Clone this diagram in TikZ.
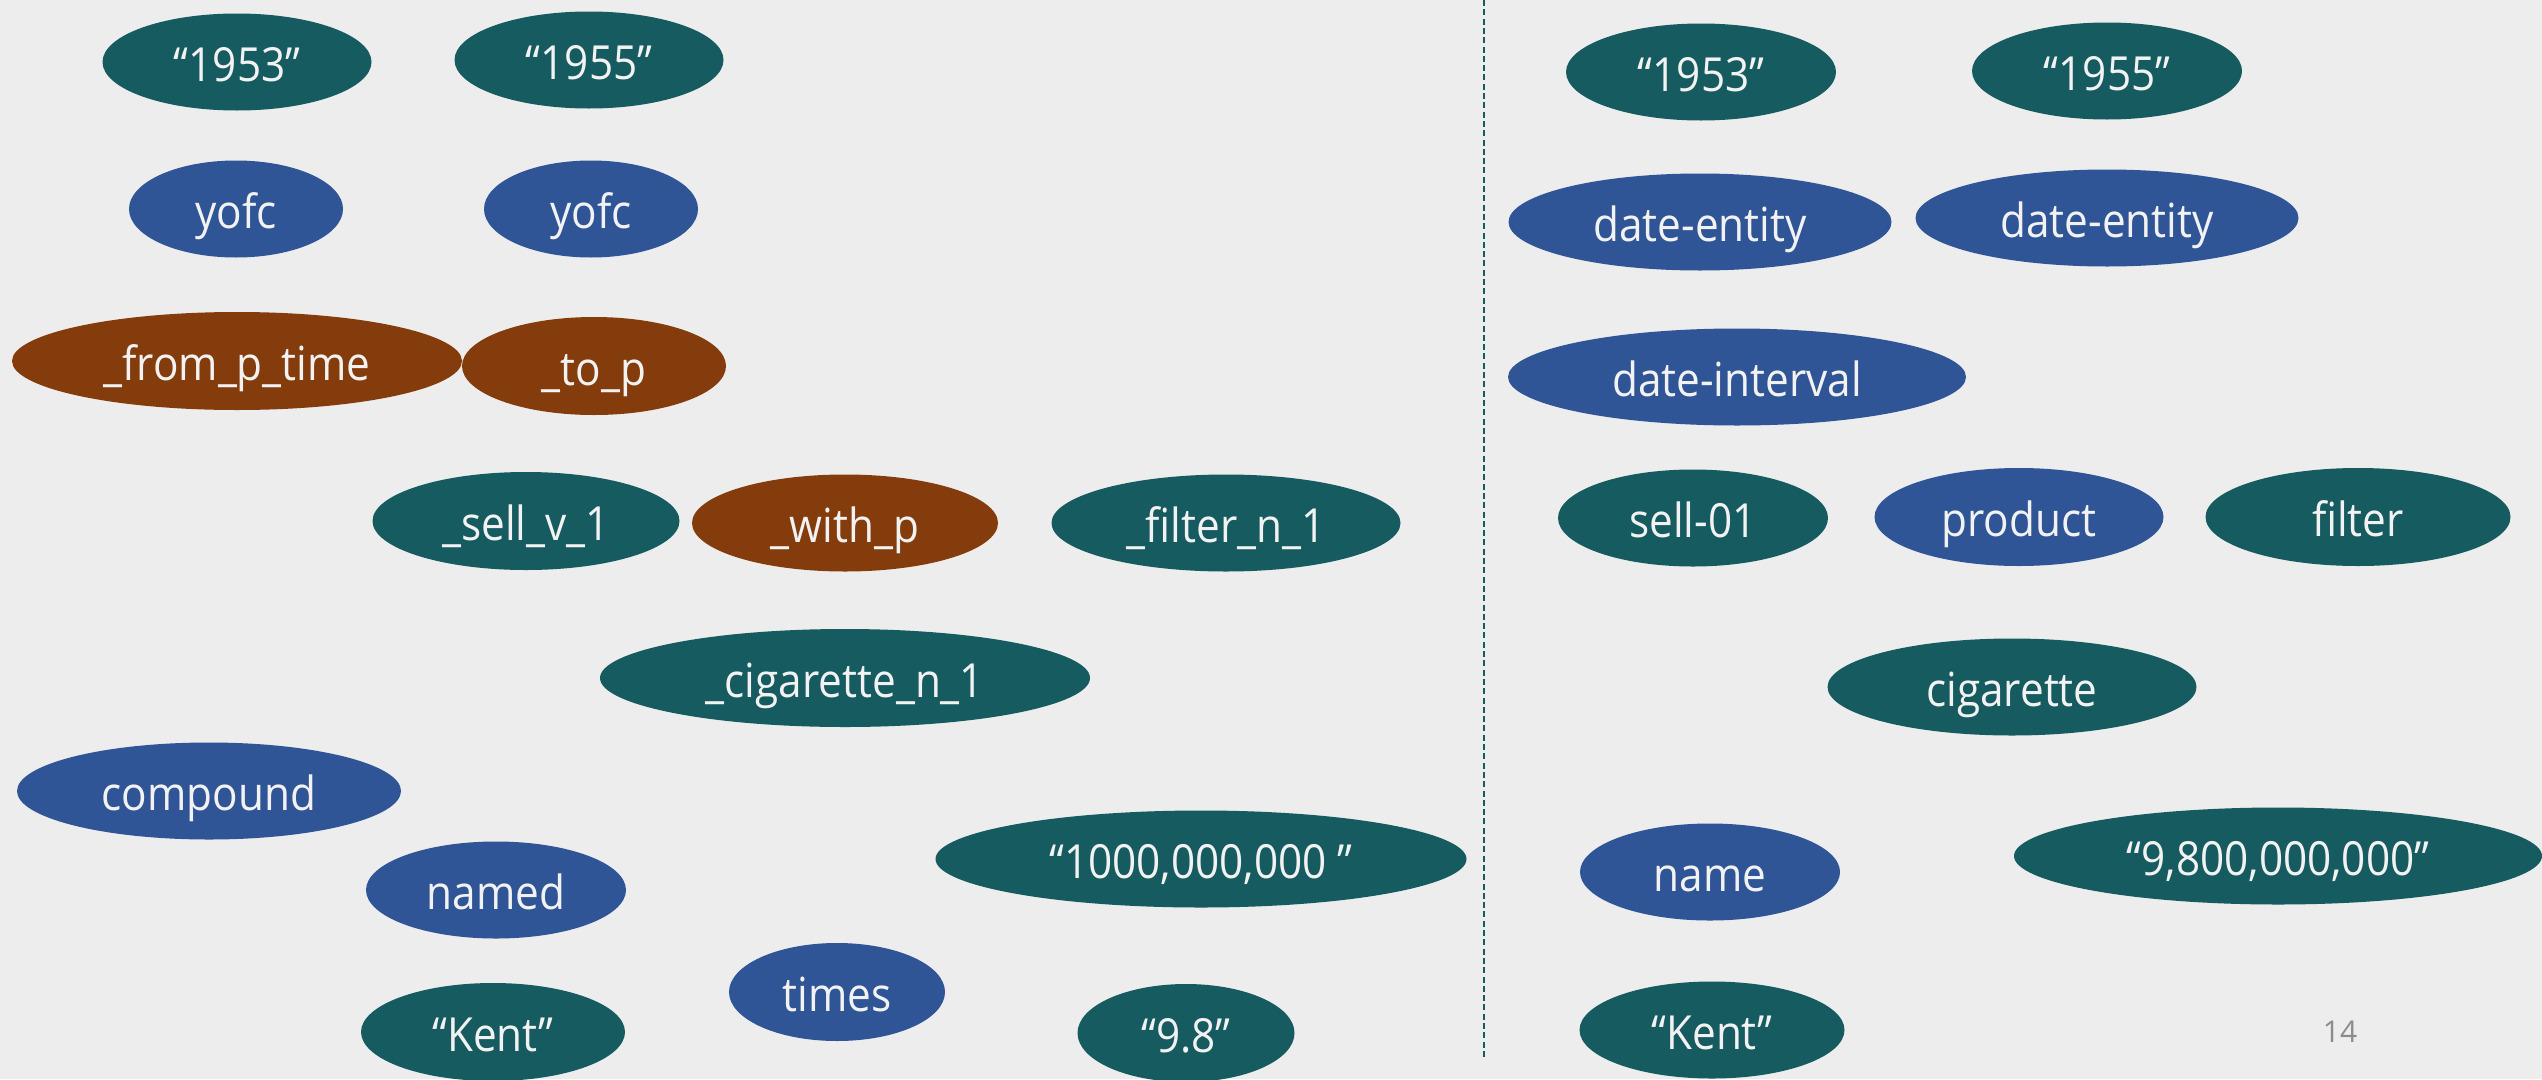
\documentclass[tikz,border=0pt]{standalone}
\usepackage{fontspec}
\setmainfont{Open Sans}
\newfontfamily\lblfont[FakeStretch=0.9]{Open Sans}
\usetikzlibrary{shapes.geometric}
\definecolor{bg}{RGB}{237,237,237}
\definecolor{tealc}{RGB}{21,91,96}
\definecolor{bluec}{RGB}{47,85,151}
\definecolor{brownc}{RGB}{132,60,12}
\definecolor{txt}{RGB}{242,242,242}
\definecolor{pgnum}{RGB}{140,140,140}
\begin{document}
\begin{tikzpicture}[x=1pt,y=-1pt,
  concept/.style={ellipse, inner sep=0pt, text=txt, text height=38pt, text depth=0pt,
    font=\lblfont\fontsize{47}{56}\selectfont},
  lit/.style={concept, fill=tealc},
  rel/.style={concept, fill=bluec},
  prep/.style={concept, fill=brownc},
  sz/.style 2 args={minimum width=#1, minimum height=#2}]
% page
\fill[bg] (0,0) rectangle (2542,1079);
\useasboundingbox (0,0) rectangle (2542,1079);
\clip (0,0) rectangle (2542,1079);

% ---- left half: DMRS-style graph nodes
\node[lit, sz={269}{97}]  (a1953)  at (237,62)   {“1953”};
\node[lit, sz={269}{97}]  (a1955)  at (589,60)   {“1955”};
\node[rel, sz={214}{97}]  (ayofcA) at (236,209)  {yofc};
\node[rel, sz={214}{97}]  (ayofcB) at (591,209)  {yofc};
\node[prep, sz={450}{98}] (afrom)  at (237,361)  {\_from\_p\_time};
\node[prep, sz={264}{98}] (ato)    at (594,366)  {\_to\_p};
\node[lit, sz={307}{98}]  (asell)  at (526,521)  {\_sell\_v\_1};
\node[prep, sz={306}{97}] (awith)  at (845,523)  {\_with\_p};
\node[lit, sz={349}{97}]  (afilt)  at (1226,523) {\_filter\_n\_1};
\node[lit, sz={490}{98}]  (acig)   at (845,678)  {\_cigarette\_n\_1};
\node[rel, sz={384}{97}]  (acomp)  at (209,791)  {compound};
\node[rel, sz={260}{97}]  (anamed) at (496,890)  {named};
\node[lit, sz={531}{97}]  (abig)   at (1201,859) {“1000,000,000 ”};
\node[rel, sz={216}{98}]  (atimes) at (837,992)  {times};
\node[lit, sz={264}{98}]  (akent)  at (493,1032) {“Kent”};
\node[lit, sz={217}{98}]  (anine)  at (1186,1033){“9.8”};

% ---- divider
\coordinate (divtop) at (1484,0);
\coordinate (divbot) at (1484,1058);
\draw[tealc, line width=2, dash pattern=on 6 off 3.3] (divtop) -- (divbot);

% ---- right half: AMR-style graph nodes
\node[lit, sz={270}{97}]  (b1953)  at (1701,72)  {“1953”};
\node[lit, sz={270}{97}]  (b1955)  at (2107,71)  {“1955”};
\node[rel, sz={383}{97}]  (bdeA)   at (1700,222) {date-entity};
\node[rel, sz={383}{97}]  (bdeB)   at (2107,218) {date-entity};
\node[rel, sz={458}{97}]  (bdi)    at (1737,377) {date-interval};
\node[lit, sz={270}{97}]  (bsell)  at (1693,518) {sell-01};
\node[rel, sz={289}{98}]  (bprod)  at (2019,517) {product};
\node[lit, sz={305}{98}]  (bfilt)  at (2358,517) {filter};
\node[lit, sz={369}{97}]  (bcig)   at (2012,687) {cigarette};
\node[rel, sz={260}{97}]  (bname)  at (1710,872) {name};
\node[lit, sz={528}{97}]  (bbig)   at (2278,856) {“9,800,000,000”};
\node[lit, sz={265}{97}]  (bkent)  at (1712,1030){“Kent”};

% ---- page number
\node[text=pgnum, inner sep=0pt, font=\fontsize{30}{36}\selectfont] (pg) at (2340,1032) {14};
\end{tikzpicture}
\end{document}
